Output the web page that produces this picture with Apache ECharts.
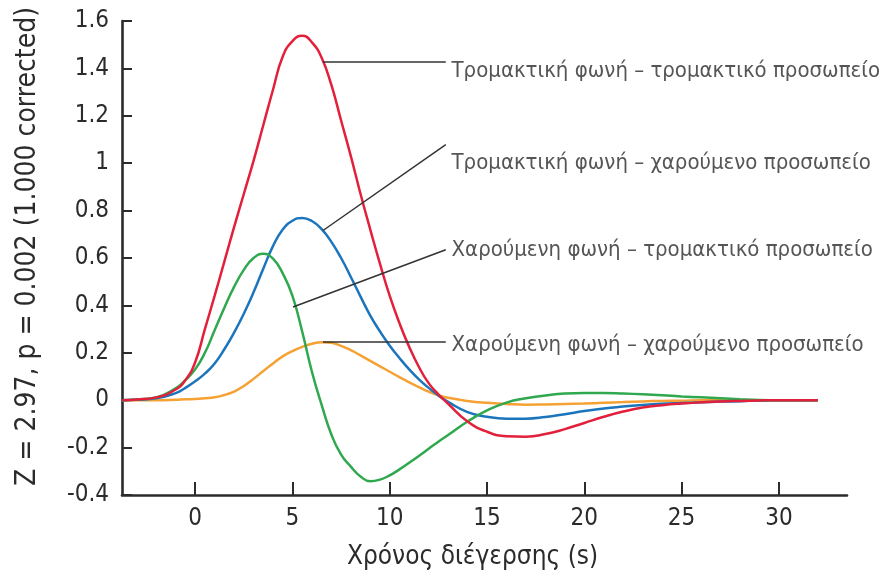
<!DOCTYPE html>
<html>
<head>
<meta charset="utf-8">
<script src="https://cdn.jsdelivr.net/npm/echarts@6/dist/echarts.min.js"></script>
<style>
html,body{margin:0;padding:0;background:#fff;}
#chart{width:888px;height:576px;}
</style>
</head>
<body>
<div id="chart"></div>
<script>
// ---- data ----
const timeS = [-3.75,-3,-2,-1,-0.5,0,0.5,1,1.5,2,2.5,3,3.5,4,4.5,5,5.5,6,6.5,7,7.5,8,8.5,9,9.5,10,10.5,11,11.5,12,12.5,13,14,15,16,17,18,19,20,21,22,23,24,25,26,27,28,29,30,31,32];
const scaryVoiceScaryFace = [0,0.003,0.012,0.045,0.085,0.16,0.3,0.44,0.585,0.73,0.87,1.01,1.16,1.31,1.45,1.515,1.538,1.51,1.445,1.33,1.18,1.03,0.87,0.72,0.575,0.44,0.325,0.225,0.14,0.072,0.025,-0.015,-0.09,-0.133,-0.152,-0.154,-0.143,-0.122,-0.096,-0.07,-0.048,-0.031,-0.021,-0.014,-0.009,-0.005,-0.003,-0.001,0,0,0];
const scaryVoiceHappyFace = [0,0.002,0.008,0.03,0.052,0.08,0.112,0.155,0.215,0.285,0.365,0.455,0.555,0.65,0.72,0.757,0.769,0.756,0.722,0.668,0.6,0.52,0.437,0.357,0.29,0.23,0.178,0.13,0.088,0.052,0.02,-0.007,-0.05,-0.07,-0.078,-0.078,-0.071,-0.059,-0.046,-0.035,-0.027,-0.02,-0.015,-0.012,-0.009,-0.006,-0.004,-0.001,0,0,0];
const happyVoiceScaryFace = [0,0.003,0.012,0.05,0.085,0.13,0.2,0.295,0.39,0.478,0.55,0.6,0.618,0.597,0.535,0.44,0.29,0.12,-0.02,-0.145,-0.23,-0.28,-0.322,-0.342,-0.335,-0.317,-0.292,-0.264,-0.235,-0.205,-0.175,-0.147,-0.09,-0.043,-0.01,0.008,0.02,0.028,0.03,0.03,0.028,0.025,0.021,0.016,0.012,0.008,0.004,0.001,0,0,0];
const happyVoiceHappyFace = [0,0,0,0.002,0.004,0.005,0.008,0.012,0.022,0.036,0.06,0.09,0.123,0.155,0.185,0.207,0.225,0.238,0.245,0.242,0.229,0.211,0.189,0.166,0.143,0.12,0.097,0.075,0.055,0.036,0.021,0.01,-0.003,-0.011,-0.016,-0.019,-0.018,-0.016,-0.014,-0.011,-0.008,-0.005,-0.003,-0.002,0,0,0,0,0,0,0];
const seriesNames = [
  'Τρομακτική φωνή – τρομακτικό προσωπείο',
  'Τρομακτική φωνή – χαρούμενο προσωπείο',
  'Χαρούμενη φωνή – τρομακτικό προσωπείο',
  'Χαρούμενη φωνή – χαρούμενο προσωπείο'
];
const xTicks = [0,5,10,15,20,25,30];
const xTitle = 'Χρόνος διέγερσης (s)';
const yTitle = 'Z = 2.97, p = 0.002 (1.000 corrected)';
// annotation anchors (data units): curve point, leader end, label position
const leaderStart = [[6.57,1.427],[6.57,0.716],[5.03,0.393],[6.57,0.246]];
const leaderEnd   = [[12.88,1.427],[12.88,1.078],[12.88,0.635],[12.88,0.246]];
const labelAt     = [[13.15,1.388],[13.15,0.998],[13.15,0.631],[13.15,0.23]];

// ---- chart ----
const FONT = "'DejaVu Sans Condensed','Liberation Sans Narrow',sans-serif";
const TXT = '#2b2b2b';
const colors = ['#e3203b','#1b75bd','#2fa84f','#f5a133'];
const valuesList = [scaryVoiceScaryFace, scaryVoiceHappyFace, happyVoiceScaryFace, happyVoiceHappyFace];
const drawOrder = [3,1,2,0];

const chart = echarts.init(document.getElementById('chart'), null, {renderer:'canvas'});
const series = drawOrder.map(i => ({
  name: seriesNames[i],
  type: 'line',
  smooth: 0.5,
  showSymbol: false,
  data: timeS.map((t, k) => [t, valuesList[i][k]]),
  lineStyle: {color: colors[i], width: 2.5},
  itemStyle: {color: colors[i]},
  animation: false,
  z: 3
}));
series.push({
  name: 'leaders',
  type: 'line',
  data: [],
  animation: false,
  markLine: {
    silent: true,
    symbol: ['none','none'],
    animation: false,
    label: {show: false},
    lineStyle: {color: '#333', width: 1.5, type: 'solid'},
    data: leaderStart.map((s, i) => [{coord: s}, {coord: leaderEnd[i]}])
  }
});
series.push({
  name: 'labels',
  type: 'scatter',
  symbol: 'circle',
  symbolSize: 1,
  itemStyle: {color: 'rgba(0,0,0,0)'},
  animation: false,
  data: labelAt.map((p, i) => ({value: p, name: seriesNames[i]})),
  label: {
    show: true,
    position: 'right',
    distance: 0,
    formatter: p => p.name,
    color: TXT,
    fontFamily: FONT,
    fontSize: 22
  }
});

chart.setOption({
  animation: false,
  backgroundColor: '#fff',
  grid: {left: 122, right: 41, top: 21, bottom: 81, containLabel: false},
  xAxis: {
    type: 'value',
    min: -3.76, max: 33.5,
    name: xTitle,
    nameLocation: 'middle',
    nameGap: 49,
    nameTextStyle: {color: TXT, fontFamily: FONT, fontSize: 26, padding: [0, 24, 0, 0]},
    axisLine: {onZero: false, lineStyle: {color: '#2b2b2b', width: 2.6}},
    axisTick: {inside: true, length: 13, customValues: xTicks, lineStyle: {color: '#2b2b2b', width: 2}},
    axisLabel: {customValues: xTicks, margin: 12, color: TXT, fontFamily: FONT, fontSize: 24},
    splitLine: {show: false}
  },
  yAxis: {
    type: 'value',
    min: -0.4, max: 1.6, interval: 0.2,
    name: yTitle,
    nameLocation: 'middle',
    nameGap: 80,
    nameTextStyle: {color: TXT, fontFamily: FONT, fontSize: 28, padding: [0, 0, 0, 23]},
    axisLine: {onZero: false, lineStyle: {color: '#2b2b2b', width: 2.6}},
    axisTick: {inside: true, length: 10, lineStyle: {color: '#2b2b2b', width: 2}},
    axisLabel: {margin: 13, color: TXT, fontFamily: FONT, fontSize: 24},
    splitLine: {show: false}
  },
  series: series
});
</script>
</body>
</html>
